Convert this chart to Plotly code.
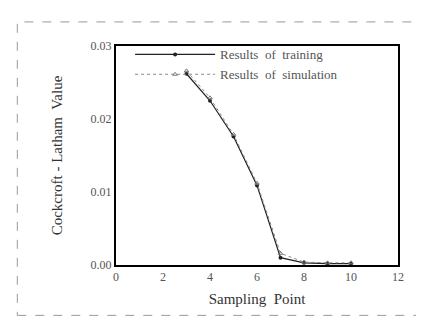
import plotly.graph_objects as go

sampling_points = [3, 4, 5, 6, 7, 8, 9, 10]
training_values = [0.0262, 0.0225, 0.0176, 0.0109, 0.0010, 0.0003, 0.0002, 0.0002]
simulation_values = [0.0266, 0.0229, 0.0179, 0.0112, 0.0016, 0.0004, 0.0003, 0.0003]
x_ticks = [0, 2, 4, 6, 8, 10, 12]
y_ticks = [0.0, 0.01, 0.02, 0.03]
y_tick_text = ["0.00", "0.01", "0.02", "0.03"]

font_family = "Liberation Serif, Times New Roman, serif"

fig = go.Figure()
fig.add_trace(go.Scatter(
    x=sampling_points, y=training_values, mode="lines+markers",
    name="Results  of  training",
    line=dict(color="#222222", width=1.2),
    marker=dict(symbol="circle", size=4, color="#222222"),
))
fig.add_trace(go.Scatter(
    x=sampling_points, y=simulation_values, mode="lines+markers",
    name="Results  of  simulation",
    line=dict(color="#888888", width=1, dash="dot"),
    marker=dict(symbol="triangle-up-open", size=4, color="#777777"),
))

fig.update_layout(
    width=424, height=324,
    margin=dict(l=108, r=34, t=38, b=67),
    paper_bgcolor="white", plot_bgcolor="white",
    font=dict(family=font_family, color="#444444", size=10),
    showlegend=True,
    legend=dict(x=0.05, y=1.03, xanchor="left", yanchor="top",
                bgcolor="rgba(0,0,0,0)", font=dict(size=13, color="#555555"),
                itemwidth=80, tracegroupgap=0),
    xaxis=dict(range=[0, 12], tickvals=x_ticks, showgrid=False, zeroline=False,
               showline=True, mirror=True, linecolor="black", linewidth=2,
               ticks="", tickfont=dict(size=12, color="#555555"),
               title=dict(text="Sampling  Point", font=dict(size=15, color="#333333"), standoff=10)),
    yaxis=dict(range=[0, 0.03], tickvals=y_ticks, ticktext=y_tick_text, showgrid=False,
               zeroline=False, showline=True, mirror=True, linecolor="black", linewidth=2,
               ticks="", tickfont=dict(size=12, color="#555555"),
               title=dict(text="Cockcroft - Latham  Value", font=dict(size=15, color="#333333"), standoff=24)),
)

fig.add_shape(type="rect", xref="paper", yref="paper",
              x0=-0.35, x1=1.105, y0=-0.23, y1=1.11,
              line=dict(color="#999999", width=1, dash="dash"))

fig.write_html("out.html")
